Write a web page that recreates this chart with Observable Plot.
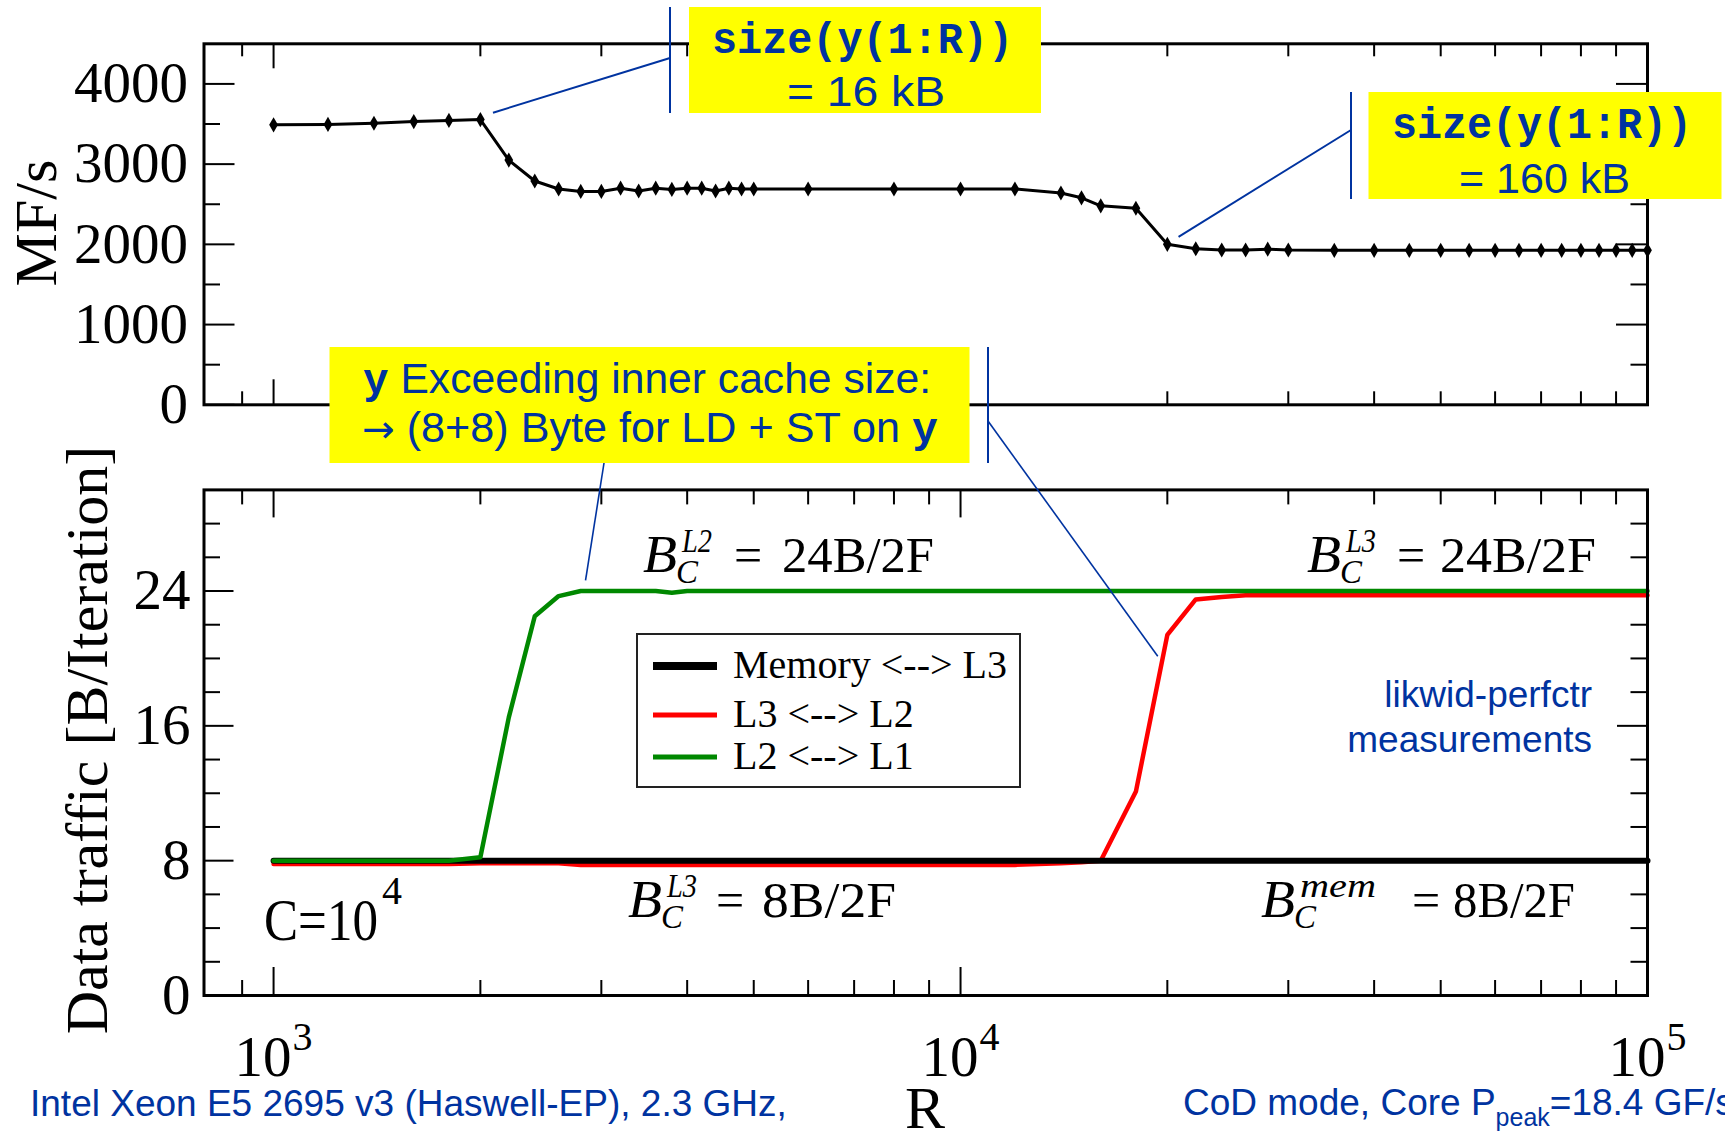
<!DOCTYPE html>
<html><head><meta charset="utf-8">
<script src="https://cdn.jsdelivr.net/npm/d3@7"></script>
<script src="https://cdn.jsdelivr.net/npm/@observablehq/plot@0.6"></script>
<style>
body{margin:0;background:#fff;}
#wrap{position:relative;width:1725px;height:1136px;overflow:hidden;background:#fff;}
#wrap > svg{position:absolute;overflow:visible;}
</style></head><body><div id="wrap"></div>
<script>
// ---- data ----
const R = [1000,1200,1400,1600,1800,2000,2200,2400,2600,2800,3000,3200,3400,3600,3800,4000,4200,4400,4600,4800,5000,
  6000,8000,10000,12000,14000,15000,16000,18000,20000,22000,24000,26000,28000,
  30000,35000,40000,45000,50000,55000,60000,65000,70000,75000,80000,85000,90000,95000,100000];
const mflops = [3490,3495,3510,3530,3545,3555,3050,2790,2690,2660,2660,2700,2665,2700,2685,2700,2700,2665,2700,2690,2690,
  2690,2690,2690,2690,2640,2580,2480,2450,2000,1945,1930,1930,1940,
  1930,1925,1925,1925,1925,1925,1925,1925,1925,1925,1925,1925,1925,1925,1925];
const memTraffic = [8,8,8,8,8,8,8,8,8,8,8,8,8,8,8,8,8,8,8,8,8,
  8,8,8,8,8,8,8,8,8,8,8,8,8,
  8,8,8,8,8,8,8,8,8,8,8,8,8,8,8];
const l3Traffic = [7.8,7.8,7.8,7.8,7.8,7.85,7.85,7.85,7.85,7.75,7.75,7.75,7.75,7.75,7.75,7.75,7.75,7.75,7.75,7.75,7.75,
  7.75,7.75,7.75,7.75,7.85,7.9,8.0,12.1,21.4,23.5,23.65,23.75,23.75,
  23.75,23.75,23.75,23.75,23.75,23.75,23.75,23.75,23.75,23.75,23.75,23.75,23.75,23.75,23.75];
const l2Traffic = [8,8,8,8,8,8.2,16.5,22.5,23.7,24,24,24,24,24,23.9,24,24,24,24,24,24,
  24,24,24,24,24,24,24,24,24,24,24,24,24,
  24,24,24,24,24,24,24,24,24,24,24,24,24,24,24];
const seriesNames = ["Memory <--> L3", "L3 <--> L2", "L2 <--> L1"];
const seriesColors = ["#000000", "#ff0000", "#008800"];

const xMajor = [1000, 10000, 100000];
const xExp = ["3", "4", "5"];
const xMinor = [900,2000,3000,4000,5000,6000,7000,8000,9000,20000,30000,40000,50000,60000,70000,80000,90000];
const yMajorTop = [0,1000,2000,3000,4000];
const yMinorTop = [500,1500,2500,3500];
const yMajorBot = [0,8,16,24];
const yMinorBot = [2,4,6,10,12,14,18,20,22,26,28];

const rows = R.map((r,i) => ({R:r, mflops:mflops[i], mem:memTraffic[i], l3:l3Traffic[i], l2:l2Traffic[i]}));

const W = 1725, ML = 203.5, MR = 78;
const innerW = W - ML - MR;
const serif = "Liberation Serif, Times New Roman, serif";
const sans = "Liberation Sans, Arial, sans-serif";
const mono = "Liberation Mono, Courier New, monospace";
const blue = "#0033a0";

function tickMarks(yMaj, yMin, innerH, yl, ys, xl, xs) {
  return [
    Plot.tickY(yMaj, {y: d=>d, insetRight: innerW - yl, stroke:"#000", strokeWidth:2}),
    Plot.tickY(yMaj, {y: d=>d, insetLeft: innerW - yl, stroke:"#000", strokeWidth:2}),
    Plot.tickY(yMin, {y: d=>d, insetRight: innerW - ys, stroke:"#000", strokeWidth:2}),
    Plot.tickY(yMin, {y: d=>d, insetLeft: innerW - ys, stroke:"#000", strokeWidth:2}),
    Plot.tickX(xMajor, {x: d=>d, insetTop: innerH - xl, stroke:"#000", strokeWidth:2}),
    Plot.tickX(xMajor, {x: d=>d, insetBottom: innerH - xl, stroke:"#000", strokeWidth:2}),
    Plot.tickX(xMinor, {x: d=>d, insetTop: innerH - xs, stroke:"#000", strokeWidth:2}),
    Plot.tickX(xMinor, {x: d=>d, insetBottom: innerH - xs, stroke:"#000", strokeWidth:2})
  ];
}

// ---- top panel ----
const topH = 430, topMT = 43.3, topMB = 25.7;
const topInnerH = topH - topMT - topMB;
const topChart = Plot.plot({
  width: W, height: topH, marginLeft: ML, marginRight: MR, marginTop: topMT, marginBottom: topMB,
  x: {type:"log", domain:[792, 100000], axis:null},
  y: {domain:[0, 4500], axis:null},
  style: {background:"transparent", color:"#000", fontFamily: serif, overflow:"visible"},
  marks: [
    ...tickMarks(yMajorTop, yMinorTop, topInnerH, 31, 16.5, 25, 13),
    Plot.line(rows, {x:"R", y:"mflops", stroke:"#000", strokeWidth:3}),
    Plot.dot(rows, {x:"R", y:"mflops", symbol:"diamond", r:4.6, fill:"#000"}),
    Plot.text(yMajorTop, {y:d=>d, frameAnchor:"left", text:d=>String(d), textAnchor:"end", dx:-16, fontSize:57, fontFamily:serif, fill:"#000"}),
    Plot.frame({stroke:"#000", strokeWidth:3})
  ]
});

// ---- bottom panel ----
const botTop = 440, botH = 696, botMT = 49.4, botMB = 141;
const botInnerH = botH - botMT - botMB;
const bottomChart = Plot.plot({
  width: W, height: botH, marginLeft: ML, marginRight: MR, marginTop: botMT, marginBottom: botMB,
  x: {type:"log", domain:[792, 100000], axis:null},
  y: {domain:[0, 30], axis:null},
  style: {background:"transparent", color:"#000", fontFamily: serif, overflow:"visible"},
  marks: [
    ...tickMarks(yMajorBot, yMinorBot, botInnerH, 30, 16.5, 28, 15),
    Plot.line(rows, {x:"R", y:"l3", stroke:seriesColors[1], strokeWidth:4.5}),
    Plot.line(rows, {x:"R", y:"mem", stroke:seriesColors[0], strokeWidth:6}),
    Plot.line(rows, {x:"R", y:"l2", stroke:seriesColors[2], strokeWidth:4.5}),
    Plot.text(yMajorBot, {y:d=>d, frameAnchor:"left", text:d=>String(d), textAnchor:"end", dx:-13.5, fontSize:57, fontFamily:serif, fill:"#000"}),
    Plot.text(xMajor, {x:d=>d, frameAnchor:"bottom", text:()=>"10", textAnchor:"end", lineAnchor:"bottom", dx:18, dy:80.6, fontSize:57, fontFamily:serif, fill:"#000"}),
    Plot.text(xMajor, {x:d=>d, frameAnchor:"bottom", text:(d,i)=>xExp[i], textAnchor:"start", lineAnchor:"bottom", dx:19, dy:54, fontSize:40, fontFamily:serif, fill:"#000"}),
    Plot.frame({stroke:"#000", strokeWidth:3})
  ]
});

const wrap = d3.select("#wrap");
wrap.append(() => topChart).style("left","0px").style("top","0px");
wrap.append(() => bottomChart).style("left","0px").style("top", botTop + "px");

// ---- overlay annotations ----
const tx = topChart.scale("x"), ty = topChart.scale("y");
const bx = bottomChart.scale("x"), by = bottomChart.scale("y");
const ov = wrap.append("svg").attr("width", W).attr("height", 1136).style("left","0px").style("top","0px");

function txt(g, x, y, s, o) {
  const t = g.append("text").attr("x", x).attr("y", y).text(s)
    .attr("font-family", o.ff || serif).attr("font-size", o.fs).attr("fill", o.fill || "#000");
  if (o.anchor) t.attr("text-anchor", o.anchor);
  if (o.italic) t.attr("font-style", "italic");
  if (o.bold) t.attr("font-weight", "bold");
  if (o.len) t.attr("textLength", o.len).attr("lengthAdjust", "spacingAndGlyphs");
  if (o.rot) t.attr("transform", `rotate(${o.rot},${x},${y})`);
  return t;
}
function line(x1,y1,x2,y2,w) {
  ov.append("line").attr("x1",x1).attr("y1",y1).attr("x2",x2).attr("y2",y2)
    .attr("stroke", blue).attr("stroke-width", w || 2);
}
// one text element made of absolutely placed pieces
function rich(parts, fill) {
  const t = ov.append("text").attr("font-family", serif).attr("fill", fill || "#000");
  parts.forEach(p => {
    const s = t.append("tspan").attr("x", p.x).attr("y", p.y).attr("font-size", p.fs).text(p.s);
    if (p.italic) s.attr("font-style", "italic");
    if (p.ff) s.attr("font-family", p.ff);
    if (p.len) s.attr("textLength", p.len).attr("lengthAdjust", "spacingAndGlyphs");
  });
  return t;
}

// axis titles
txt(ov, 56, 223, "MF/s", {fs:60, anchor:"middle", rot:-90});
txt(ov, 107, 740, "Data traffic [B/Iteration]", {fs:60, anchor:"middle", rot:-90});
txt(ov, 925, 1128, "R", {fs:60, anchor:"middle"});

// footer
txt(ov, 30, 1116, "Intel Xeon E5 2695 v3 (Haswell-EP), 2.3 GHz,", {fs:37, ff:sans, fill:blue});
const ft = ov.append("text").attr("x", 1183).attr("y", 1115).attr("font-family", sans).attr("font-size", 37).attr("fill", blue);
ft.append("tspan").text("CoD mode, Core P");
ft.append("tspan").attr("font-size", 25).attr("dy", 11).text("peak");
ft.append("tspan").attr("dy", -11).text("=18.4 GF/s");

// C=10^4
rich([{x:264, y:940, fs:60, s:"C=10", len:114}, {x:382, y:904, fs:40, s:"4"}]);

// formulas
function formula(x0, y0, sup, supW, eqX, rest, restX, restW) {
  rich([
    {x:x0, y:y0, fs:52, s:"B", italic:true, len:34},
    {x:x0 + 33, y:y0 + 11, fs:34, s:"C", italic:true, len:22},
    {x:x0 + 39, y:y0 - 20, fs:34, s:sup, italic:true, len:supW},
    {x:eqX, y:y0, fs:50, s:"="},
    {x:restX, y:y0, fs:50, s:rest, len:restW}
  ]);
}
formula(643, 572, "L2", 30, 734, "24B/2F", 782, 152);
formula(1307, 572, "L3", 30, 1397, "24B/2F", 1440, 156);
formula(628, 917, "L3", 30, 716, "8B/2F", 762, 134);
formula(1261, 917, "mem", 76, 1412, "8B/2F", 1453, 122);

// likwid text
txt(ov, 1592, 707, "likwid-perfctr", {fs:37, ff:sans, fill:blue, anchor:"end"});
txt(ov, 1592, 752, "measurements", {fs:37, ff:sans, fill:blue, anchor:"end"});

// legend
ov.append("rect").attr("x", 637).attr("y", 634).attr("width", 383).attr("height", 153)
  .attr("fill", "#fff").attr("stroke", "#222").attr("stroke-width", 2);
const legY = [666, 715, 757], legW = [8, 5, 5];
seriesNames.forEach((n, i) => {
  ov.append("line").attr("x1", 653).attr("x2", 717).attr("y1", legY[i]).attr("y2", legY[i])
    .attr("stroke", seriesColors[i]).attr("stroke-width", legW[i]);
  txt(ov, 733, legY[i] + 12, n, {fs:40});
});

// yellow boxes
function box(x, y, w, h) { ov.append("rect").attr("x",x).attr("y",y).attr("width",w).attr("height",h).attr("fill","#ffff00"); }

// box 1
const p1 = [tx.apply(2090), ty.apply(3635)];
line(p1[0], p1[1], 670, 58);
line(670, 7, 670, 113);
box(689, 7, 352, 106);
txt(ov, 712, 53, "size(y(1:R))", {fs:44, ff:mono, bold:true, fill:blue, len:301});
txt(ov, 787, 106, "=  16 kB", {fs:42, ff:sans, fill:blue, len:158});

// box 2
const p2 = [tx.apply(20800), ty.apply(2088)];
line(p2[0], p2[1], 1351, 130);
line(1351, 92, 1351, 199);
box(1368.5, 92, 353, 107);
txt(ov, 1392, 138, "size(y(1:R))", {fs:44, ff:mono, bold:true, fill:blue, len:300});
txt(ov, 1459, 193, "= 160 kB", {fs:42, ff:sans, fill:blue, len:171});

// box 3
const p3a = [bx.apply(2850), by.apply(24.6) + botTop];
const p3b = [bx.apply(19400), by.apply(20.1) + botTop];
line(604, 463, p3a[0], p3a[1], 1.6);
line(988, 421, p3b[0], p3b[1], 1.6);
line(988, 347, 988, 463);
box(329.5, 347, 640, 116);
const t1 = ov.append("text").attr("x", 363).attr("y", 393).attr("font-family", sans).attr("font-size", 42)
  .attr("fill", blue).attr("textLength", 568).attr("lengthAdjust", "spacingAndGlyphs");
t1.append("tspan").attr("font-family", mono).attr("font-weight", "bold").text("y");
t1.append("tspan").text(" Exceeding inner cache size:");
const t2 = ov.append("text").attr("x", 362).attr("y", 442).attr("font-family", sans).attr("font-size", 42)
  .attr("fill", blue).attr("textLength", 576).attr("lengthAdjust", "spacingAndGlyphs");
t2.append("tspan").attr("font-family", "DejaVu Sans").attr("font-size", 38).text("\u2192");
t2.append("tspan").text(" (8+8) Byte for LD + ST on ");
t2.append("tspan").attr("font-family", mono).attr("font-weight", "bold").text("y");
</script></body></html>
